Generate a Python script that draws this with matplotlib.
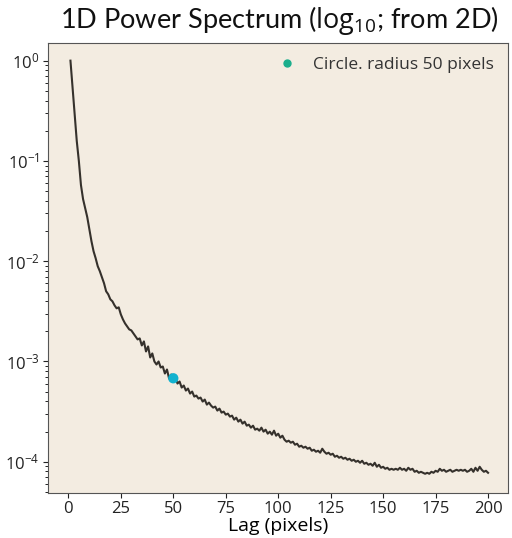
import numpy as np
import matplotlib
matplotlib.use("Agg")
import matplotlib.pyplot as plt
from matplotlib.lines import Line2D

lags = list(range(1, 201))
log_power = [
    0.00, -0.27, -0.54, -0.80, -1.00, -1.24, -1.38, -1.47, -1.56, -1.68,
    -1.80, -1.90, -1.97, -2.05, -2.10, -2.16, -2.22, -2.30, -2.33, -2.38,
    -2.40, -2.44, -2.47, -2.46, -2.53, -2.58, -2.62, -2.65, -2.68, -2.69,
    -2.72, -2.75, -2.78, -2.77, -2.84, -2.80, -2.90, -2.85, -2.96, -2.92,
    -3.00, -3.03, -3.00, -3.06, -3.05, -3.12, -3.08, -3.17, -3.13, -3.18,
    -3.16, -3.22, -3.20, -3.26, -3.24, -3.29, -3.27, -3.32, -3.30, -3.35,
    -3.34, -3.37, -3.36, -3.40, -3.38, -3.43, -3.41, -3.44, -3.46, -3.45,
    -3.49, -3.47, -3.51, -3.50, -3.53, -3.52, -3.55, -3.54, -3.58, -3.56,
    -3.60, -3.58, -3.62, -3.60, -3.64, -3.63, -3.66, -3.64, -3.68, -3.67,
    -3.69, -3.66, -3.70, -3.68, -3.72, -3.70, -3.73, -3.69, -3.74, -3.72,
    -3.76, -3.74, -3.78, -3.80, -3.79, -3.81, -3.80, -3.83, -3.82, -3.85,
    -3.84, -3.86, -3.85, -3.87, -3.86, -3.89, -3.88, -3.90, -3.89, -3.91,
    -3.87, -3.90, -3.92, -3.91, -3.93, -3.92, -3.95, -3.94, -3.96, -3.95,
    -3.97, -3.96, -3.98, -3.97, -3.99, -3.98, -4.00, -3.99, -4.01, -3.99,
    -4.02, -4.01, -4.03, -4.02, -4.04, -4.01, -4.05, -4.03, -4.06, -4.05,
    -4.07, -4.06, -4.08, -4.07, -4.08, -4.07, -4.08, -4.06, -4.08, -4.07,
    -4.09, -4.06, -4.08, -4.07, -4.10, -4.09, -4.11, -4.10, -4.11, -4.12,
    -4.11, -4.12, -4.10, -4.11, -4.09, -4.10, -4.07, -4.09, -4.08, -4.10,
    -4.09, -4.08, -4.10, -4.09, -4.08, -4.09, -4.08, -4.09, -4.08, -4.10,
    -4.09, -4.07, -4.10, -4.06, -4.09, -4.05, -4.08, -4.10, -4.09, -4.11,
]
power = [10 ** v for v in log_power]

circle_lag = [50]
circle_power = [6.8e-4]
legend_label = "Circle. radius 50 pixels"

plt.rcParams['font.family'] = ['Open Sans', 'DejaVu Sans']
plt.rcParams['mathtext.fontset'] = 'custom'
plt.rcParams['mathtext.rm'] = 'Open Sans'
plt.rcParams['mathtext.it'] = 'Open Sans:italic'
plt.rcParams['mathtext.bf'] = 'Open Sans:bold'

fig = plt.figure(figsize=(5.12, 5.38), dpi=100)
ax = fig.add_axes([48/512, 1-493/538, (508-48)/512, (493-42.7)/538])
ax.set_facecolor('#f3ece1')

ax.plot(lags, power, color='#35312c', lw=1.5)
ax.scatter(circle_lag, circle_power, s=55, color='#12b2cf', zorder=3, edgecolors='none')

ax.set_yscale('log')
ax.set_ylim(4.88e-5, 1.51)
ax.set_xlim(-9.7, 209.5)
ax.set_xticks([0, 25, 50, 75, 100, 125, 150, 175, 200])
ax.tick_params(labelsize=12, colors='#222222', pad=2.5)
ax.set_xlabel('Lag (pixels)', fontsize=14, labelpad=0)

for s in ax.spines.values():
    s.set_color('#555555')
    s.set_linewidth(0.8)

handle = Line2D([], [], marker='o', linestyle='none', color='#1aae8c', markersize=5)
ax.legend([handle], [legend_label], loc='upper right', frameon=False, fontsize=12.5,
          handletextpad=0.5, borderaxespad=0.4, labelcolor='#333333')

fig.text(0.545, 1 - 28/538, r'1D Power Spectrum ($\mathrm{log_{10}}$; from 2D)',
         fontsize=19.5, family=['Lato', 'DejaVu Sans'], ha='center', va='baseline',
         color='#111111')

fig.savefig('out.png', dpi=100)
